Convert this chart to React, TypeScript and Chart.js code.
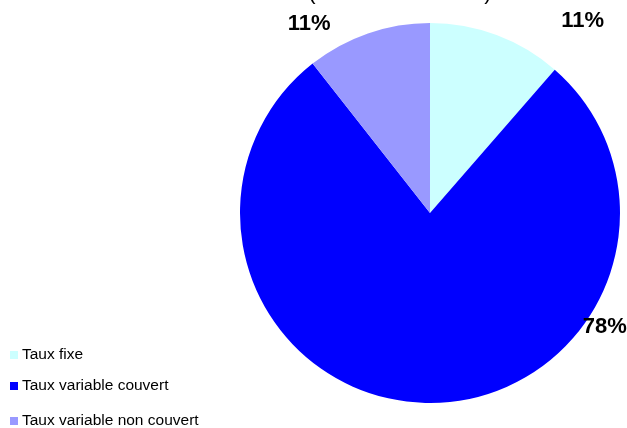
import React, { useEffect, useRef } from "react";
import { Chart, registerables } from "chart.js";

Chart.register(...registerables);

const categories = ["Taux fixe", "Taux variable couvert", "Taux variable non couvert"];
const values = [11.4, 78.0, 10.6];
const valueLabels = ["11%", "78%", "11%"];
const colors = ["#CCFFFF", "#0000FF", "#9999FF"];

// label placement: angle (deg clockwise from top) and radius factor
const labelPlacement = [
  { angle: 38.2, r: 1.29 },
  { angle: 123, r: 1.09 },
  { angle: 327.4, r: 1.19 },
];

const overlayPlugin = {
  id: "overlay",
  afterDraw(chart: any) {
    const ctx = chart.ctx;
    const meta = chart.getDatasetMeta(0);
    ctx.save();
    // clipped title parentheses
    ctx.fillStyle = "#000";
    ctx.font = "22px 'Liberation Sans', Arial, sans-serif";
    ctx.textAlign = "center";
    ctx.textBaseline = "alphabetic";
    ctx.fillText("(", 312, -1);
    ctx.fillText(")", 488, -1);

    // value labels
    meta.data.forEach((arc: any, i: number) => {
      const p = labelPlacement[i];
      const a = (p.angle * Math.PI) / 180;
      const x = arc.x + Math.sin(a) * arc.outerRadius * p.r;
      const y = arc.y - Math.cos(a) * arc.outerRadius * p.r;
      ctx.font = "bold 22px 'Liberation Sans', Arial, sans-serif";
      ctx.textAlign = "center";
      ctx.textBaseline = "middle";
      ctx.fillStyle = "#000";
      ctx.fillText(valueLabels[i], x + 1, y + 1);
    });

    // legend
    const legendMid = [355, 386, 421];
    ctx.font = "15.5px 'Liberation Sans', Arial, sans-serif";
    ctx.textAlign = "left";
    ctx.textBaseline = "middle";
    categories.forEach((c, i) => {
      ctx.fillStyle = colors[i];
      ctx.fillRect(10, legendMid[i] - 4, 8, 8);
      ctx.fillStyle = "#000";
      ctx.fillText(c, 22, legendMid[i]);
    });
    ctx.restore();
  },
};

export default function App() {
  const ref = useRef<HTMLCanvasElement>(null);
  useEffect(() => {
    const chart = new Chart(ref.current!, {
      type: "pie",
      data: {
        labels: categories,
        datasets: [
          {
            data: values,
            backgroundColor: colors,
            borderWidth: 0,
          },
        ],
      },
      options: {
        responsive: false,
        animation: false,
        devicePixelRatio: 1,
        layout: { padding: { left: 240, right: 7, top: 23, bottom: 25 } },
        plugins: {
          legend: { display: false },
          tooltip: { enabled: false },
          title: { display: false },
        },
      },
      plugins: [overlayPlugin],
    });
    return () => chart.destroy();
  }, []);
  return (
    <div style={{ position: "fixed", left: 0, top: 0, width: 627, height: 428, background: "#fff" }}>
      <canvas ref={ref} width={627} height={428} />
    </div>
  );
}
